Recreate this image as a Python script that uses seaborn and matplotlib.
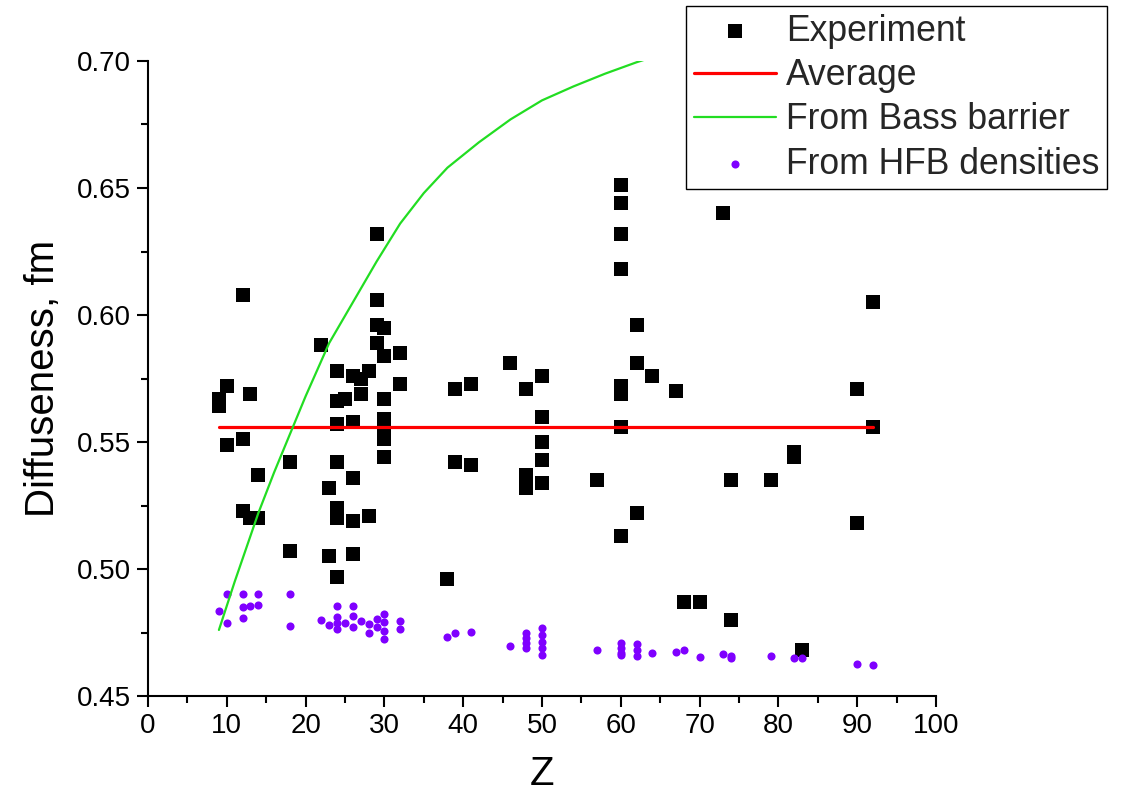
import numpy as np
import pandas as pd
import matplotlib
matplotlib.use("Agg")
import matplotlib.pyplot as plt
import seaborn as sns
from matplotlib.ticker import MultipleLocator, FormatStrFormatter

# ---------------- data ----------------
exp_z = [9, 9, 10, 10, 12, 12, 12, 13, 13, 14, 14, 18, 18, 22, 23, 23,
         24, 24, 24, 24, 24, 24, 24, 25, 26, 26, 26, 26, 26, 27, 27, 28, 28,
         29, 29, 29, 29, 30, 30, 30, 30, 30, 30, 30, 32, 32, 38, 39, 39, 41, 41,
         46, 48, 48, 48, 50, 50, 50, 50, 50, 57,
         60, 60, 60, 60, 60, 60, 60, 60, 62, 62, 62, 64, 67, 68, 70, 73, 74, 74,
         79, 82, 82, 83, 90, 90, 92, 92]
exp_a = [0.567, 0.564, 0.572, 0.549, 0.608, 0.551, 0.523, 0.569, 0.520, 0.537, 0.520,
         0.542, 0.507, 0.588, 0.532, 0.505,
         0.578, 0.566, 0.557, 0.542, 0.524, 0.520, 0.497, 0.567,
         0.576, 0.558, 0.536, 0.519, 0.506, 0.575, 0.569, 0.578, 0.521,
         0.632, 0.606, 0.596, 0.589, 0.595, 0.584, 0.567, 0.559, 0.556, 0.551, 0.544,
         0.585, 0.573, 0.496, 0.571, 0.542, 0.573, 0.541,
         0.581, 0.571, 0.537, 0.532, 0.576, 0.560, 0.550, 0.543, 0.534, 0.535,
         0.651, 0.644, 0.632, 0.618, 0.572, 0.569, 0.556, 0.513,
         0.596, 0.581, 0.522, 0.576, 0.570, 0.487, 0.487, 0.640, 0.535, 0.480,
         0.535, 0.546, 0.544, 0.468, 0.571, 0.518, 0.605, 0.556]

avg_z = [9, 92]
avg_a = [0.556, 0.556]

bass_z = [9, 11, 14, 16, 18, 20, 23, 26, 29, 32, 35, 38, 42, 46, 50, 54, 58, 62, 64]
bass_a = [0.476, 0.495, 0.522, 0.538, 0.553, 0.568, 0.589, 0.605, 0.621, 0.636,
          0.648, 0.658, 0.668, 0.677, 0.6845, 0.690, 0.695, 0.6995, 0.7015]

hfb_z = [9, 10, 10, 12, 12, 12, 13, 14, 14, 18, 18, 22, 23,
         24, 24, 24, 24, 25, 26, 26, 26, 27, 28, 28, 29, 29, 30, 30, 30, 30,
         32, 32, 38, 39, 41, 46, 48, 48, 48, 48, 50, 50, 50, 50, 50, 57,
         60, 60, 60, 60, 62, 62, 62, 64, 67, 68, 70, 73, 74, 74, 79, 82, 83, 90, 92]
hfb_a = [0.4836, 0.490, 0.4789, 0.490, 0.485, 0.4806, 0.4855, 0.490, 0.486, 0.490, 0.4776,
         0.480, 0.478,
         0.4854, 0.4810, 0.4786, 0.4763, 0.4789, 0.4854, 0.4813, 0.4773, 0.4796,
         0.4783, 0.4747, 0.4802, 0.4770, 0.4823, 0.4791, 0.4755, 0.4723,
         0.4795, 0.4763, 0.4731, 0.4749, 0.4753, 0.4697, 0.475, 0.473, 0.471, 0.469,
         0.4769, 0.4740, 0.4714, 0.4688, 0.4661, 0.4680,
         0.4710, 0.4690, 0.4670, 0.4660, 0.4706, 0.4683, 0.4659, 0.4670, 0.4672,
         0.4683, 0.4652, 0.4666, 0.4659, 0.4648, 0.4659, 0.4648, 0.4648, 0.4626, 0.4623]

x_ticks = [0, 10, 20, 30, 40, 50, 60, 70, 80, 90, 100]
y_ticks = [0.45, 0.50, 0.55, 0.60, 0.65, 0.70]

# ---------------- style ----------------
sns.set_theme(style="ticks")
plt.rcParams['font.family'] = ['Liberation Sans', 'DejaVu Sans']

exp_df = pd.DataFrame({"Z": exp_z, "a": exp_a})
avg_df = pd.DataFrame({"Z": avg_z, "a": avg_a})
bass_df = pd.DataFrame({"Z": bass_z, "a": bass_a})
hfb_df = pd.DataFrame({"Z": hfb_z, "a": hfb_a})

fig = plt.figure(figsize=(11.25, 7.98), dpi=100)
ax = fig.add_axes([148 / 1125, 1 - 696 / 798, (936 - 148) / 1125, (696 - 61) / 798])

sns.scatterplot(data=exp_df, x="Z", y="a", marker="s", s=95, color="black",
                linewidth=0, ax=ax, label="Experiment", zorder=2)
sns.lineplot(data=avg_df, x="Z", y="a", color="#ff0000", linewidth=2.3,
             ax=ax, label="Average", errorbar=None, zorder=3)
sns.lineplot(data=bass_df, x="Z", y="a", color="#22dd22", linewidth=1.6,
             ax=ax, label="From Bass barrier", errorbar=None, zorder=3)
sns.scatterplot(data=hfb_df, x="Z", y="a", marker="o", s=34, color="#7f00ff",
                linewidth=0, ax=ax, label="From HFB densities", zorder=2)

ax.set_xlim(0, 100)
ax.set_ylim(0.45, 0.70)
ax.set_xticks(x_ticks)
ax.set_yticks(y_ticks)
ax.xaxis.set_minor_locator(MultipleLocator(5))
ax.yaxis.set_minor_locator(MultipleLocator(0.025))
ax.yaxis.set_major_formatter(FormatStrFormatter('%.2f'))

for side in ["top", "right"]:
    ax.spines[side].set_visible(False)
for side in ["left", "bottom"]:
    ax.spines[side].set_linewidth(1.5)
    ax.spines[side].set_color("black")

ax.tick_params(axis="both", which="major", direction="out", length=8, width=1.5,
               color="black", labelsize=20, labelcolor="black", pad=4)
ax.tick_params(axis="both", which="minor", direction="out", length=5, width=1.5,
               color="black")

ax.set_xlabel("Z", fontsize=29, labelpad=12, color="black")
ax.set_ylabel("Diffuseness, fm", fontsize=29, labelpad=11, color="black")

handles, labels = ax.get_legend_handles_labels()
order = ["Experiment", "Average", "From Bass barrier", "From HFB densities"]
hmap = dict(zip(labels, handles))
leg = ax.legend([hmap[k] for k in order], order, loc="upper right",
                bbox_to_anchor=(1107 / 1125, 1 - 6 / 798), bbox_transform=fig.transFigure,
                borderaxespad=0, fontsize=25.6, frameon=True, fancybox=False,
                edgecolor="black", framealpha=1, borderpad=0.22, labelspacing=0.26,
                handlelength=2.3, handletextpad=0.28, scatterpoints=1)
leg.get_frame().set_linewidth(1.0)

fig.savefig("out.png", dpi=100, facecolor="white")
